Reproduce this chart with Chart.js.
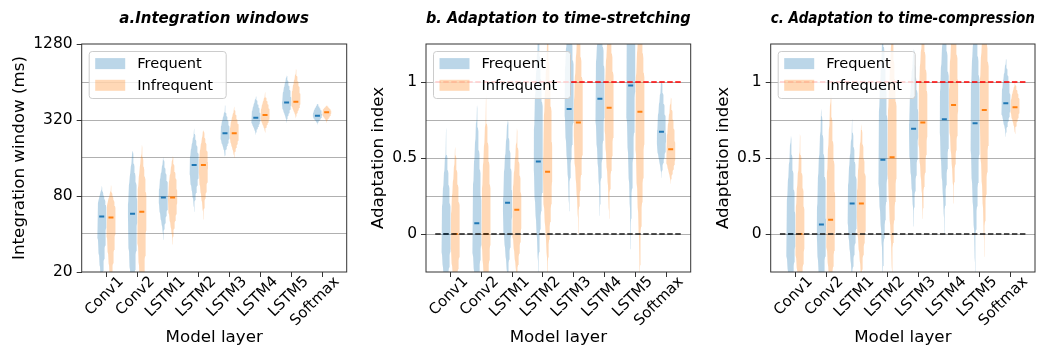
<!DOCTYPE html>
<html><head><meta charset="utf-8">
<script src="https://cdn.jsdelivr.net/npm/chart.js@4/dist/chart.umd.min.js"></script>
<style>
html,body{margin:0;padding:0;background:#fff;}
#wrap{position:relative;width:1055px;height:352px;overflow:hidden;}
canvas{position:absolute;top:0;}
</style></head><body>
<div id="wrap">
<canvas id="ca" style="left:0px" width="360" height="352"></canvas>
<canvas id="cb" style="left:352px" width="350" height="352"></canvas>
<canvas id="cc" style="left:702px" width="353" height="352"></canvas>
</div>
<script>
// ---------- data ----------
const categories = ['Conv1','Conv2','LSTM1','LSTM2','LSTM3','LSTM4','LSTM5','Softmax'];
const seriesNames = ['Frequent','Infrequent'];

// Panel a: integration windows (ms). Violin extent per layer: [low end, density peak, high end]
const aFreqRange   = [[12,60,100],[7,65,215],[36,80,180],[60,140,290],[165,250,420],[245,330,520],[305,440,780],[295,350,445]];
const aInfreqRange = [[12,58,98],[7,65,230],[33,78,185],[52,140,300],[160,250,430],[255,350,540],[330,450,850],[305,370,425]];
const aFreqMedian   = [55,58,78,141,251,334,440,346];
const aInfreqMedian = [54,60,78,141,251,350,447,368];
const aTicks = [20,40,80,160,320,640,1280];
const aTickLabels = [20,80,320,1280];

// Panel b: adaptation to time-stretching
const bFreqRange   = [[-0.5,0.0,0.7],[-0.55,0.05,0.95],[-0.35,0.18,0.85],[-0.3,0.55,1.5],[0.15,0.95,1.6],[0.12,0.95,1.6],[-0.1,1.15,1.9],[0.37,0.62,1.08]];
const bInfreqRange = [[-0.5,0.0,0.65],[-0.55,0.08,0.95],[-0.35,0.12,0.75],[-0.3,0.45,1.45],[0.0,0.75,1.55],[0.1,0.85,1.55],[-0.3,0.85,1.6],[0.33,0.52,0.95]];
const bFreqMedian   = [0.0,0.07,0.205,0.477,0.823,0.89,0.977,0.673];
const bInfreqMedian = [0.0,0.0,0.16,0.41,0.733,0.83,0.805,0.558];

// Panel c: adaptation to time-compression
const cFreqRange   = [[-0.5,0.0,0.75],[-0.55,0.05,0.95],[-0.35,0.18,0.8],[-0.3,0.55,1.5],[0.05,0.72,1.3],[0.0,0.8,1.6],[-0.25,0.8,1.6],[0.64,0.85,1.19]];
const cInfreqRange = [[-0.5,0.0,0.7],[-0.5,0.1,1.05],[-0.35,0.18,0.8],[-0.3,0.6,1.5],[0.1,0.78,1.5],[0.2,0.9,1.6],[-0.15,0.9,1.6],[0.66,0.84,1.02]];
const cFreqMedian   = [0.0,0.062,0.2,0.488,0.693,0.755,0.728,0.86];
const cInfreqMedian = [0.0,0.093,0.2,0.505,0.733,0.848,0.816,0.834];

const adaptTicks = [-0.25,0,0.25,0.5,0.75,1,1.25];
const adaptTickLabels = [0,0.5,1];
const refLineValues = [0,1];          // no adaptation / full adaptation
const refLineSpan = [-0.5,7.5];

// ---------- styles ----------
const FONT = 'DejaVu Sans';
const blue = '#1f77b4', orange = '#ff7f0e';
const blueFill = 'rgba(31,119,180,0.3)', orangeFill = 'rgba(255,127,14,0.3)';
const refColors = ['#1a1a1a','#ff0000'];
const halfWidth = 0.15, dodge = 0.15;

function outline(pos, range, toT, fromT){
  const [lo, pk, hi] = range.map(toT);
  const n = 60, vals = [];
  for (let i = 0; i <= n; i++) vals.push(lo + (hi - lo) * i / n);
  vals.push(pk); vals.sort((a,b)=>a-b);
  const w = v => { const t = v < pk ? (pk - v)/(pk - lo) : (v - pk)/(hi - pk); const s = Math.max(0, 1 - t*t); return halfWidth*s*s; };
  const right = vals.map(v => ({x: pos + w(v), y: fromT(v)}));
  const left = vals.slice().reverse().map(v => ({x: pos - w(v), y: fromT(v)}));
  return right.concat(left);
}

const framePlugin = {
  id: 'frame',
  afterDatasetsDraw(chart){
    const {ctx, chartArea: a} = chart;
    ctx.save(); ctx.strokeStyle = '#333'; ctx.lineWidth = 1;
    ctx.strokeRect(a.left, a.top, a.right - a.left, a.bottom - a.top);
    ctx.restore();
  }
};
const legendPlugin = {
  id: 'boxLegend',
  afterDraw(chart){
    const {ctx, chartArea: a} = chart;
    const x = a.left + 7.5, y = a.top + 7.5, w = 137, h = 47, r = 3;
    ctx.save();
    ctx.beginPath();
    ctx.moveTo(x + r, y); ctx.lineTo(x + w - r, y); ctx.arcTo(x + w, y, x + w, y + r, r);
    ctx.lineTo(x + w, y + h - r); ctx.arcTo(x + w, y + h, x + w - r, y + h, r);
    ctx.lineTo(x + r, y + h); ctx.arcTo(x, y + h, x, y + h - r, r);
    ctx.lineTo(x, y + r); ctx.arcTo(x, y, x + r, y, r); ctx.closePath();
    ctx.fillStyle = 'rgba(255,255,255,0.8)'; ctx.fill();
    ctx.strokeStyle = '#cccccc'; ctx.lineWidth = 1; ctx.stroke();
    const fills = [blueFill, orangeFill];
    ctx.font = '14.6px "' + FONT + '"'; ctx.textBaseline = 'middle'; ctx.fillStyle = '#000';
    seriesNames.forEach((name, i) => {
      const py = y + 6.6 + i * 21.7;
      ctx.fillStyle = fills[i]; ctx.fillRect(x + 6, py, 30, 11);
      ctx.fillStyle = '#000'; ctx.fillText(name, x + 48, py + 6);
    });
    ctx.restore();
  }
};

function makeChart(id, p){
  const isLog = p.log;
  const toT = isLog ? Math.log2 : (v => v);
  const fromT = isLog ? (v => Math.pow(2, v)) : (v => v);
  const datasets = [];
  if (p.refLines) {
    refLineValues.forEach((v, k) => datasets.push({
      data: refLineSpan.map(x => ({x, y: v})), showLine: true, borderColor: refColors[k],
      borderWidth: 1.7, borderDash: [5.5, 2.5], pointRadius: 0, fill: false, order: 0
    }));
  }
  datasets.push({data: p.fm.map((m, i) => ({x: i - dodge, y: m})), pointStyle: 'line', pointRadius: 2.5,
    borderColor: blue, borderWidth: 2, backgroundColor: blue, showLine: false, order: 1});
  datasets.push({data: p.im.map((m, i) => ({x: i + dodge, y: m})), pointStyle: 'line', pointRadius: 2.5,
    borderColor: orange, borderWidth: 2, backgroundColor: orange, showLine: false, order: 1});
  p.fr.forEach((r, i) => datasets.push({data: outline(i - dodge, r, toT, fromT), showLine: true, fill: 'shape',
    backgroundColor: blueFill, borderColor: 'rgba(0,0,0,0)', borderWidth: 0, pointRadius: 0, tension: 0, order: 2}));
  p.ir.forEach((r, i) => datasets.push({data: outline(i + dodge, r, toT, fromT), showLine: true, fill: 'shape',
    backgroundColor: orangeFill, borderColor: 'rgba(0,0,0,0)', borderWidth: 0, pointRadius: 0, tension: 0, order: 2}));

  return new Chart(document.getElementById(id), {
    type: 'scatter',
    data: {datasets},
    plugins: [framePlugin, legendPlugin],
    options: {
      responsive: false, animation: false, devicePixelRatio: 1,
      layout: {padding: {left: 0, right: p.rightPad, top: 0, bottom: 0}},
      plugins: {
        legend: {display: false}, tooltip: {enabled: false},
        title: {display: true, text: p.title, fullSize: false, color: '#000',
          font: {family: FONT, size: 15, weight: 'bold', style: 'italic'}, padding: {top: 10, bottom: 16}}
      },
      scales: {
        x: {
          type: 'linear', min: -0.8, max: 7.8,
          afterBuildTicks: s => { s.ticks = categories.map((c, i) => ({value: i})); },
          afterFit: s => { s.height = 80; },
          ticks: {autoSkip: false, minRotation: 45, maxRotation: 45, padding: -4, labelOffset: 15,
            color: '#000', font: {family: FONT, size: 15},
            callback: v => categories[Math.round(v)]},
          grid: {drawOnChartArea: false, drawTicks: true, tickLength: 5, tickColor: '#333'},
          border: {display: false},
          title: {display: true, text: 'Model layer', color: '#000', font: {family: FONT, size: 16.7}, padding: {top: 0, bottom: 4.5}}
        },
        y: {
          type: isLog ? 'logarithmic' : 'linear', min: p.yMin, max: p.yMax,
          afterBuildTicks: s => { s.ticks = p.yTicks.map(v => ({value: v})); },
          afterFit: s => { s.width = p.yWidth; },
          ticks: {autoSkip: false, padding: 4, color: '#000', font: {family: FONT, size: 15.5},
            callback: v => p.yLabels.some(l => Math.abs(l - v) < 1e-9) ? String(v) : ''},
          grid: {
            color: c => (c.tick && (c.tick.value === p.yMin || c.tick.value === p.yMax)) ? 'rgba(0,0,0,0)' : '#b0b0b0',
            tickColor: c => (c.tick && p.yLabels.some(l => Math.abs(l - c.tick.value) < 1e-9)) ? '#333' : 'rgba(0,0,0,0)',
            tickLength: 5, lineWidth: 1
          },
          border: {display: false},
          title: {display: true, text: p.yTitle, color: '#000', font: {family: FONT, size: 16.7}, padding: {top: p.yTitlePad, bottom: 0}}
        }
      }
    }
  });
}

makeChart('ca', {log: true, title: 'a.Integration windows', yTitle: 'Integration window (ms)',
  yMin: 20, yMax: 1280, yTicks: aTicks, yLabels: aTickLabels, yWidth: 81.7, yTitlePad: 9.5, rightPad: 13.3,
  fr: aFreqRange, ir: aInfreqRange, fm: aFreqMedian, im: aInfreqMedian, refLines: false});
makeChart('cb', {log: false, title: 'b. Adaptation to time-stretching', yTitle: 'Adaptation index',
  yMin: -0.25, yMax: 1.25, yTicks: adaptTicks, yLabels: adaptTickLabels, yWidth: 74, yTitlePad: 16.5, rightPad: 11.3,
  fr: bFreqRange, ir: bInfreqRange, fm: bFreqMedian, im: bInfreqMedian, refLines: true});
makeChart('cc', {log: false, title: 'c. Adaptation to time-compression', yTitle: 'Adaptation index',
  yMin: -0.25, yMax: 1.25, yTicks: adaptTicks, yLabels: adaptTickLabels, yWidth: 68.7, yTitlePad: 12, rightPad: 20,
  fr: cFreqRange, ir: cInfreqRange, fm: cFreqMedian, im: cInfreqMedian, refLines: true});
</script>
</body></html>
